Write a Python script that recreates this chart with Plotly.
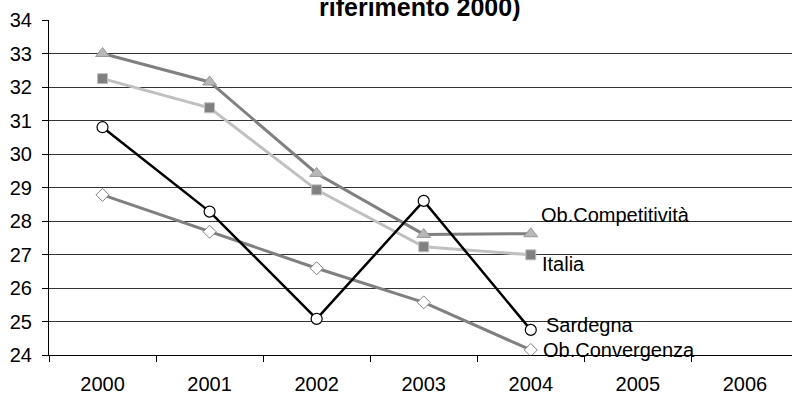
import plotly.graph_objects as go

years = ["2000", "2001", "2002", "2003", "2004", "2005", "2006"]
data_years = ["2000", "2001", "2002", "2003", "2004"]

ob_competitivita = [33.0, 32.15, 29.42, 27.6, 27.62]
italia = [32.25, 31.38, 28.93, 27.23, 26.99]
sardegna = [30.8, 28.28, 25.08, 28.6, 24.75]
ob_convergenza = [28.78, 27.68, 26.59, 25.57, 24.15]

y_ticks = list(range(24, 35))
title_text = "riferimento 2000)"

FONT = "Liberation Sans, Arial, sans-serif"

fig = go.Figure()

fig.add_trace(go.Scatter(
    x=data_years, y=ob_convergenza, mode="lines+markers", name="Ob.Convergenza",
    line=dict(color="#808080", width=3),
    marker=dict(symbol="diamond", size=10, color="white", line=dict(color="#808080", width=1)),
))
fig.add_trace(go.Scatter(
    x=data_years, y=ob_competitivita, mode="lines+markers", name="Ob.Competitività",
    line=dict(color="#808080", width=3),
    marker=dict(symbol="triangle-up", size=12, color="#b8b8b8", line=dict(color="#999999", width=1)),
))
fig.add_trace(go.Scatter(
    x=data_years, y=italia, mode="lines+markers", name="Italia",
    line=dict(color="#c0c0c0", width=3),
    marker=dict(symbol="square", size=10, color="#808080", line=dict(color="#c0c0c0", width=1)),
))
fig.add_trace(go.Scatter(
    x=data_years, y=sardegna, mode="lines+markers", name="Sardegna",
    line=dict(color="black", width=2.5),
    marker=dict(symbol="circle", size=11, color="white", line=dict(color="black", width=1.2)),
))

# series names written next to the last point of each line
label_font = dict(family=FONT, size=20, color="black")
labels = [
    ("Ob.Competitività", 0.08, 28.18),
    ("Italia", 0.09, 26.73),
    ("Sardegna", 0.125, 24.91),
    ("Ob.Convergenza", 0.1, 24.15),
]
for text, dx, ypos in labels:
    fig.add_annotation(
        x=4 + dx, y=ypos, xref="x", yref="y", text=text, showarrow=False,
        xanchor="left", yanchor="middle", font=label_font,
    )

# chart title (its upper lines sit above the page)
fig.add_annotation(
    x=(419 - 49) / (792 - 49), y=1 + (20 - 6.5) / 335, xref="paper", yref="paper",
    text="<b>" + title_text + "</b>", showarrow=False,
    xanchor="center", yanchor="middle",
    font=dict(family=FONT, size=25, color="black"),
)

fig.update_layout(
    width=792, height=394,
    margin=dict(l=49, r=0, t=20, b=39),
    paper_bgcolor="white", plot_bgcolor="white",
    showlegend=False,
    font=dict(family=FONT, size=20, color="black"),
    xaxis=dict(
        type="category", categoryorder="array", categoryarray=years,
        tickvals=years, ticktext=years,
        range=[-0.5, 6.44], showgrid=False, showline=True, linecolor="black", linewidth=1,
        ticks="outside", tickson="boundaries", ticklen=6, tickcolor="black",
        ticklabelstandoff=11, zeroline=False,
    ),
    yaxis=dict(
        range=[24, 34], tickvals=y_ticks, showgrid=True, gridcolor="#333333", gridwidth=1,
        showline=True, linecolor="black", linewidth=1, ticks="outside", ticklen=6,
        tickcolor="black", ticklabelstandoff=6, zeroline=False,
    ),
)

fig.write_html("out.html")
